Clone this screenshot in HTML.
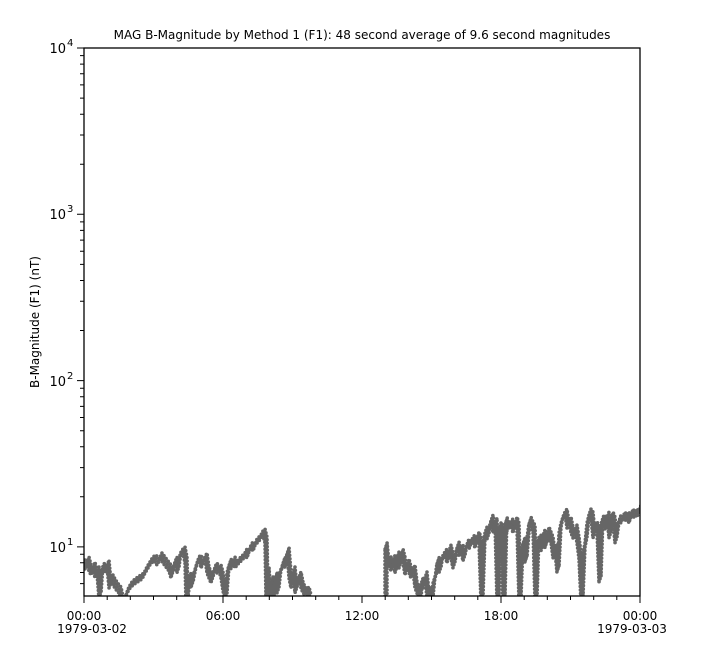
<!DOCTYPE html>
<html><head><meta charset="utf-8"><style>
html,body{margin:0;padding:0;background:#fff;}
svg{display:block;font-family:"DejaVu Sans","Liberation Sans",sans-serif;}
.ln path{fill:none;stroke:#999;stroke-width:1;}
.dt path{fill:none;stroke:#666;stroke-width:3.6;stroke-linecap:round;stroke-dasharray:0 3.5;}
</style></head><body>
<svg width="724" height="656" viewBox="0 0 724 656" xmlns="http://www.w3.org/2000/svg">
<rect width="724" height="656" fill="#fff"/>
<text x="362" y="39" font-size="12" text-anchor="middle" fill="#000">MAG  B-Magnitude by Method 1 (F1): 48 second average of 9.6 second magnitudes</text>
<defs><clipPath id="c"><rect x="84" y="48" width="556" height="548"/></clipPath></defs>
<g clip-path="url(#c)">
<g class="ln">
<path d="M84,563 L86,566 88,560 90,568 92,572 94,565 96,575 98,570 100,596 102,568 104,566 106,570 108,563 110,585 112,578 114,582 116,585 118,588 120,590 122,600"/>
<path d="M125,598 L128,590 131,585 134,582 137,580 140,578 143,576 146,570 149,565 152,560 155,558 158,562 161,556 164,560 167,564 170,568 172,575 174,565 176,560 178,570 180,555 182,552 184,550 186,560 187,600 190,575 192,585 195,570 198,560 200,558 202,565 204,560 206,556 208,570 210,575 212,580 214,570 216,566 218,570 220,568 222,575 224,588 226,596 228,570 230,562 232,566 234,560 236,565 238,562 240,560 242,558 244,556 246,552 248,555 250,548 252,545 254,548 256,542 258,540 260,538 262,534 264,532 266,540 267,596 268,570 270,600 272,580 274,596 276,575 278,590 280,572 282,568 284,560 286,565 288,550 290,575 292,585 294,570 296,590 298,580 300,575 302,585 304,590 306,592 308,590 310,598"/>
<path d="M386,600 L386,545 388,565 390,560 392,568 394,558 396,570 398,555 400,565 402,552 404,560 406,572 408,562 410,570 412,575 414,568 416,585 418,590 420,600 422,580 424,585 426,575 428,595 430,590 432,600 434,580 436,575 438,560 440,570 442,558 444,555 446,552 448,560 450,548 452,556 454,565 456,552 458,545 460,553 462,548 464,558 466,548 468,542 470,546 472,540 474,538 476,545 478,535 480,540 482,600 484,540 486,530 488,536 490,525 492,518 494,530 496,521 498,600 500,525 502,530 504,600 506,520 508,528 510,524 512,522 514,530 516,520 518,526 520,600 522,550 524,540 526,560 528,535 530,520 532,525 534,528 536,600 538,540 540,538 542,548 544,532 546,545 548,530 550,535 552,540 554,555 556,548 558,570 560,530 562,520 564,515 566,512 568,525 570,520 572,530 574,535 576,528 578,540 580,556 582,600 584,550 586,540 588,520 590,512 592,515 594,535 596,525 598,528 600,580 602,520 604,518 606,526 608,515 610,535 612,515 614,520 616,540 618,525 620,518 622,520 624,515 626,518 628,515 630,520 632,512 634,515 636,512 638,514 640,508"/>
</g>
<g class="dt" id="dtg">
<path d="M84,563 L86,566 88,560 90,568 92,572 94,565 96,575 98,570 100,596 102,568 104,566 106,570 108,563 110,585 112,578 114,582 116,585 118,588 120,590 122,600"/>
<path d="M125,598 L128,590 131,585 134,582 137,580 140,578 143,576 146,570 149,565 152,560 155,558 158,562 161,556 164,560 167,564 170,568 172,575 174,565 176,560 178,570 180,555 182,552 184,550 186,560 187,600 190,575 192,585 195,570 198,560 200,558 202,565 204,560 206,556 208,570 210,575 212,580 214,570 216,566 218,570 220,568 222,575 224,588 226,596 228,570 230,562 232,566 234,560 236,565 238,562 240,560 242,558 244,556 246,552 248,555 250,548 252,545 254,548 256,542 258,540 260,538 262,534 264,532 266,540 267,596 268,570 270,600 272,580 274,596 276,575 278,590 280,572 282,568 284,560 286,565 288,550 290,575 292,585 294,570 296,590 298,580 300,575 302,585 304,590 306,592 308,590 310,598"/>
<path d="M386,600 L386,545 388,565 390,560 392,568 394,558 396,570 398,555 400,565 402,552 404,560 406,572 408,562 410,570 412,575 414,568 416,585 418,590 420,600 422,580 424,585 426,575 428,595 430,590 432,600 434,580 436,575 438,560 440,570 442,558 444,555 446,552 448,560 450,548 452,556 454,565 456,552 458,545 460,553 462,548 464,558 466,548 468,542 470,546 472,540 474,538 476,545 478,535 480,540 482,600 484,540 486,530 488,536 490,525 492,518 494,530 496,521 498,600 500,525 502,530 504,600 506,520 508,528 510,524 512,522 514,530 516,520 518,526 520,600 522,550 524,540 526,560 528,535 530,520 532,525 534,528 536,600 538,540 540,538 542,548 544,532 546,545 548,530 550,535 552,540 554,555 556,548 558,570 560,530 562,520 564,515 566,512 568,525 570,520 572,530 574,535 576,528 578,540 580,556 582,600 584,550 586,540 588,520 590,512 592,515 594,535 596,525 598,528 600,580 602,520 604,518 606,526 608,515 610,535 612,515 614,520 616,540 618,525 620,518 622,520 624,515 626,518 628,515 630,520 632,512 634,515 636,512 638,514 640,508"/>
</g>
<use href="#dtg" transform="translate(1,-3)"/>
<use href="#dtg" transform="translate(-1,3)"/>
</g>
<rect x="84" y="48" width="556" height="548" fill="none" stroke="#000" stroke-width="1.3"/>
<path stroke="#000" stroke-width="1" fill="none" d="
M77,48H84 M77,214.3H84 M77,380.6H84 M77,546.9H84
M80,164.2H84 M80,135H84 M80,114.2H84 M80,98.1H84 M80,84.9H84 M80,73.8H84 M80,64.1H84 M80,55.6H84
M80,330.5H84 M80,301.3H84 M80,280.5H84 M80,264.4H84 M80,251.2H84 M80,240.1H84 M80,230.4H84 M80,221.9H84
M80,496.8H84 M80,467.6H84 M80,446.8H84 M80,430.7H84 M80,417.5H84 M80,406.4H84 M80,396.7H84 M80,388.2H84
M80,583.6H84 M80,572.5H84 M80,562.8H84 M80,554.3H84
M84,596V603 M223,596V603 M362,596V603 M501,596V603 M640,596V603
M107.2,596V600 M130.3,596V600 M153.5,596V600 M176.7,596V600 M199.8,596V600
M246.2,596V600 M269.3,596V600 M292.5,596V600 M315.7,596V600 M338.8,596V600
M385.2,596V600 M408.3,596V600 M431.5,596V600 M454.7,596V600 M477.8,596V600
M524.2,596V600 M547.3,596V600 M570.5,596V600 M593.7,596V600 M616.8,596V600"/>
<g font-size="13" fill="#000">
<text x="66" y="53" text-anchor="end">10</text><text x="67" y="46" font-size="10">4</text>
<text x="66" y="219" text-anchor="end">10</text><text x="67" y="212" font-size="10">3</text>
<text x="66" y="386" text-anchor="end">10</text><text x="67" y="379" font-size="10">2</text>
<text x="66" y="552" text-anchor="end">10</text><text x="67" y="545" font-size="10">1</text>
</g>
<text transform="translate(39,322) rotate(-90)" font-size="12" text-anchor="middle">B-Magnitude (F1) (nT)</text>
<g font-size="12" fill="#000" text-anchor="middle">
<text x="84" y="620">00:00</text><text x="92" y="633">1979-03-02</text>
<text x="223" y="620">06:00</text>
<text x="362" y="620">12:00</text>
<text x="501" y="620">18:00</text>
<text x="640" y="620">00:00</text><text x="632" y="633">1979-03-03</text>
</g>
</svg>
</body></html>
